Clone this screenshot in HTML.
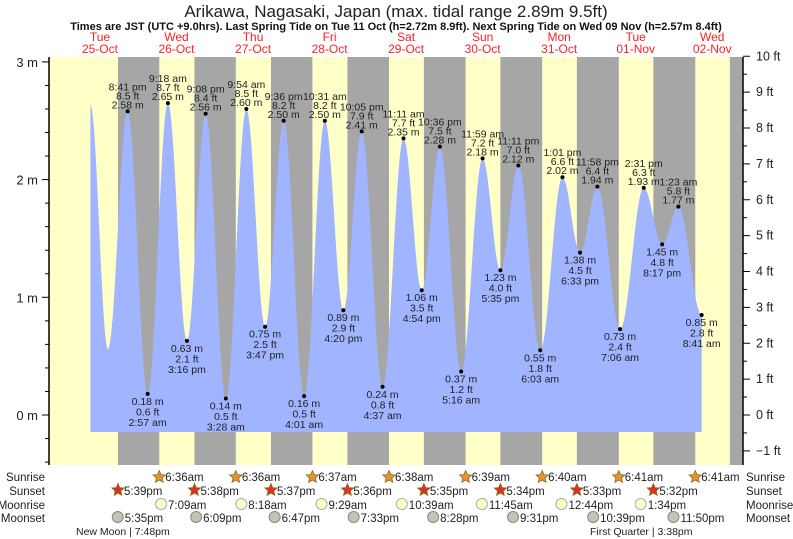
<!DOCTYPE html>
<html><head><meta charset="utf-8"><style>
body{margin:0;background:#fff}
svg{display:block;font-family:"Liberation Sans",sans-serif}
</style></head><body>
<svg id="c" width="793" height="539" viewBox="0 0 793 539">
<text x="396" y="17" text-anchor="middle" font-size="17" fill="#222">Arikawa, Nagasaki, Japan (max. tidal range 2.89m 9.5ft)</text>
<text x="396" y="30" text-anchor="middle" font-size="11" font-weight="bold" fill="#111">Times are JST (UTC +9.0hrs). Last Spring Tide on Tue 11 Oct (h=2.72m 8.9ft). Next Spring Tide on Wed 09 Nov (h=2.57m 8.4ft)</text>
<g id="plot"></g>
</svg>
<script>
// hours since 25-Oct 00:00
const tideTimes=[9.0,14.5,20.68,26.95,33.3,39.27,45.13,51.47,57.9,63.78,69.6,76.02,82.52,88.33,94.08,100.62,107.18,112.9,118.6,125.27,131.98,137.58,143.18,150.05,157.02,162.55,167.97,175.1,182.52,188.28,193.38,200.68];
const tideHeights=[2.63,0.56,2.58,0.18,2.65,0.63,2.56,0.14,2.60,0.75,2.50,0.16,2.50,0.89,2.41,0.24,2.35,1.06,2.28,0.37,2.18,1.23,2.12,0.55,2.02,1.38,1.94,0.73,1.93,1.45,1.77,0.85];
const tideLabels=[null,null,"8:41 pm","2:57 am","9:18 am","3:16 pm","9:08 pm","3:28 am","9:54 am","3:47 pm","9:36 pm","4:01 am","10:31 am","4:20 pm","10:05 pm","4:37 am","11:11 am","4:54 pm","10:36 pm","5:16 am","11:59 am","5:35 pm","11:11 pm","6:03 am","1:01 pm","6:33 pm","11:58 pm","7:06 am","2:31 pm","8:17 pm","1:23 am","8:41 am"];
const dayNames=["Tue","Wed","Thu","Fri","Sat","Sun","Mon","Tue","Wed"];
const dayDates=["25-Oct","26-Oct","27-Oct","28-Oct","29-Oct","30-Oct","31-Oct","01-Nov","02-Nov"];
const sunriseH=[30.6,54.6,78.62,102.63,126.65,150.67,174.68,198.68];
const sunriseL=["6:36am","6:36am","6:37am","6:38am","6:39am","6:40am","6:41am","6:41am"];
const sunsetH=[17.65,41.63,65.62,89.6,113.58,137.57,161.55,185.53,209.52];
const sunsetL=["5:39pm","5:38pm","5:37pm","5:36pm","5:35pm","5:34pm","5:33pm","5:32pm"];
const moonriseH=[31.15,56.3,81.48,106.65,131.75,156.73,181.57];
const moonriseL=["7:09am","8:18am","9:29am","10:39am","11:45am","12:44pm","1:34pm"];
const moonsetH=[17.58,42.15,66.78,91.55,116.47,141.52,166.65,191.83];
const moonsetL=["5:35pm","6:09pm","6:47pm","7:33pm","8:28pm","9:31pm","10:39pm","11:50pm"];
const mTicks=[0,1,2,3];
const ftTicks=[-1,0,1,2,3,4,5,6,7,8,9,10];

const NS="http://www.w3.org/2000/svg";
const g=document.getElementById('plot');
const X=h=>61.7+h*3.189;
const Y=m=>415-m*117.7;
const L=49,R=743,T=57,B=465;
function el(tag,attrs,parent){const e=document.createElementNS(NS,tag);for(const k in attrs)e.setAttribute(k,attrs[k]);(parent||g).appendChild(e);return e;}
function txt(x,y,s,size,anchor,fill){const t=el('text',{x:x,y:y,'font-size':size,'text-anchor':anchor||'middle',fill:fill||'#222'});t.textContent=s;return t;}

let bg=el('rect',{x:L,y:T,width:R-L,height:B-T,fill:'#ffffc8'});


for(let i=0;i<sunsetH.length;i++){
  const x1=X(sunsetH[i]);const x2=i<sunriseH.length?X(sunriseH[i]):R;
  const r=el('rect',{x:x1,y:T,width:Math.min(x2,R)-x1,height:B-T,fill:'#a6a6a6'});
  
  
}
function hAt(t){
  for(let i=0;i<tideTimes.length-1;i++){
    if(t>=tideTimes[i]&&t<=tideTimes[i+1]){
      const f=(t-tideTimes[i])/(tideTimes[i+1]-tideTimes[i]);
      const a=tideHeights[i],b=tideHeights[i+1];
      return a+(b-a)*(1-Math.cos(Math.PI*f))/2;
    }
  }
  return null;
}
const t0=tideTimes[0],t1=tideTimes[tideTimes.length-1];
let d=`M${X(t0)},432`;
for(let t=t0;t<=t1;t+=0.1){d+=` L${X(t).toFixed(2)},${Y(hAt(t)).toFixed(2)}`;}
d+=` L${X(t1)},${Y(tideHeights[tideHeights.length-1])} L${X(t1)},432 Z`;
let p=el('path',{d:d,fill:'#a0b4ff'});


for(let i=0;i<tideTimes.length;i++){
  if(!tideLabels[i])continue;
  const x=X(tideTimes[i]),y=Y(tideHeights[i]);
  const high=i>0?tideHeights[i]>tideHeights[i-1]:true;
  const dot=el('circle',{cx:x,cy:y,r:2,fill:'#000'});
  
  
  const m=tideHeights[i].toFixed(2)+' m',ft=(tideHeights[i]/0.3048).toFixed(1)+' ft';
  let a,b,c;
  if(high){a=txt(x,y-21,tideLabels[i],10.5);b=txt(x,y-12,ft,10.5);c=txt(x,y-3,m,10.5);}
  else{a=txt(x,y+11,m,10.5);b=txt(x,y+21.5,ft,10.5);c=txt(x,y+32,tideLabels[i],10.5);}
  [a,b,c].forEach(e=>{});
}
let ax=el('line',{x1:L,y1:T,x2:L,y2:B,stroke:'#000','stroke-width':1.5});


let ax2=el('line',{x1:R,y1:T,x2:R,y2:B,stroke:'#000','stroke-width':1.5});


for(let v=-0.4;v<=3.41;v+=0.2){const y=Y(v);if(y<T||y>B)continue;const maj=Math.abs(v-Math.round(v))<0.01;el('line',{x1:maj?L-7:L-4,y1:y,x2:L,y2:y,stroke:'#000'});}
mTicks.forEach(v=>{const t=txt(L-11,Y(v)+5,v+' m',13,'end');});
for(let v=-1.5;v<=10.01;v+=0.5){const y=Y(v*0.3048);if(y<T-1||y>B)continue;const maj=Math.abs(v-Math.round(v))<0.01;el('line',{x1:R,y1:y,x2:maj?R+7:R+4,y2:y,stroke:'#000'});}
ftTicks.forEach(v=>{const t=txt(R+13,Y(v*0.3048)+4,(v<0?'\u22121':v)+' ft',12.5,'start');});
for(let i=0;i<dayNames.length;i++){
  const x=X(24*i+12);
  const a=txt(x,41,dayNames[i],12,'middle','#ff2020');const b=txt(x,53,dayDates[i],12,'middle','#ff2020');
  
  
}
const rows=[["Sunrise",481],["Sunset",495],["Moonrise",509],["Moonset",522]];
rows.forEach(r=>{const a=txt(45,r[1],r[0],11.5,'end');
const b=txt(746,r[1],r[0],11.5,'start');});
function star(cx,cy,fill){let s='';for(let k=0;k<10;k++){const rr=k%2?3:6.5;const a=-Math.PI/2+k*Math.PI/5;s+=(cx+rr*Math.cos(a)).toFixed(1)+','+(cy+rr*Math.sin(a)).toFixed(1)+' ';}return el('polygon',{points:s,fill:fill,stroke:'#8a6a20','stroke-width':0.8});}
sunriseH.forEach((h,i)=>{const x=X(h);const s=star(x,477,'#e8942c');const t=txt(x+6,481,sunriseL[i],11.5,'start');});
sunsetH.slice(0,sunsetL.length).forEach((h,i)=>{const x=X(h);const s=star(x,490,'#e03020');const t=txt(x+6,495,sunsetL[i],11.5,'start');});
moonriseH.forEach((h,i)=>{const x=X(h);const c=el('circle',{cx:x,cy:504,r:5.5,fill:'#ffffc8',stroke:'#aaa'});const t=txt(x+7,509,moonriseL[i],11.5,'start');});
moonsetH.forEach((h,i)=>{const x=X(h);const c=el('circle',{cx:x,cy:517,r:5.5,fill:'#c4c4b4',stroke:'#888'});const t=txt(x+7,522,moonsetL[i],11.5,'start');});
let nm=txt(76,535,'New Moon | 7:48pm',10.5,'start');
let fq=txt(590,535,'First Quarter | 3:38pm',10.5,'start');
</script>
</body></html>
